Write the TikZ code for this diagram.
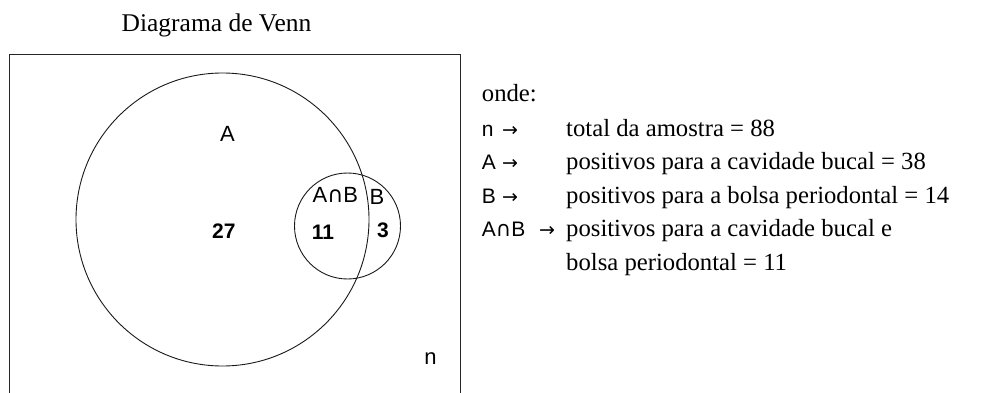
\documentclass[tikz,border=0pt]{standalone}
\usepackage{fontspec}
\setmainfont{Liberation Serif}
\setsansfont{Liberation Sans}
\newfontfamily\djvfont{DejaVu Sans}
\newcommand\capglyph{{\djvfont ∩}}
\newcommand\arrglyph{{\djvfont →}}
\begin{document}
\begin{tikzpicture}[x=1pt,y=-1pt,
  frame/.style={draw=black!85,line width=1.3pt},
  setcircle/.style={draw=black!90,line width=0.9pt},
  setlabel/.style={inner sep=0pt,font=\sffamily\fontsize{22}{24}\selectfont},
  count/.style={inner sep=0pt,font=\sffamily\bfseries\fontsize{21}{23}\selectfont},
  serif/.style={inner sep=0pt,anchor=base west,font=\rmfamily\fontsize{24.7}{30}\selectfont},
  legkey/.style={inner sep=0pt,anchor=base west,font=\sffamily\fontsize{21}{23}\selectfont},
  legarrow/.style={inner sep=0pt,anchor=base west,font=\fontsize{19}{21}\selectfont}]
\useasboundingbox (0,0) rectangle (988,393);
% title
\node[inner sep=0pt,anchor=base,font=\rmfamily\fontsize{25.5}{30}\selectfont] (title) at (216.5,31.7) {Diagrama de Venn};
% frame (open at the bottom)
\coordinate (fbl) at (9.5,393);
\coordinate (ftl) at (9.5,54.3);
\coordinate (ftr) at (460.3,54.3);
\coordinate (fbr) at (460.3,393);
\draw[frame] (fbl) -- (ftl) -- (ftr) -- (fbr);
% sets
\node[setcircle,circle,minimum size=293pt,inner sep=0pt] (setA) at (222.5,219.5) {};
\node[setcircle,circle,minimum size=106pt,inner sep=0pt] (setB) at (347.5,226) {};
% labels
\node[setlabel] (labA) at (227.5,134) {A};
\node[setlabel] (labAB) at (335.3,195) {A\capglyph B};
\node[setlabel] (labB) at (377,197.3) {B};
\node[setlabel] (labn) at (430.5,358.5) {n};
\node[count] (c27) at (223.8,230.8) {27};
\node[count] (c11) at (323,232) {11};
\node[count] (c3) at (383,230) {3};
% legend
\node[serif] (onde) at (481.7,102) {onde:};
\node[legkey] (kn) at (481.7,136.7) {n};
\node[legarrow] (an) at (502,136.7) {\arrglyph};
\node[serif] (tn) at (566,136.7) {total da amostra = 88};
\node[legkey] (kA) at (481.7,170) {A};
\node[legarrow] (aA) at (502,170) {\arrglyph};
\node[serif] (tA) at (566,170) {positivos para a cavidade bucal = 38};
\node[legkey] (kB) at (481.7,203.3) {B};
\node[legarrow] (aB) at (502,203.3) {\arrglyph};
\node[serif] (tB) at (566,203.3) {positivos para a bolsa periodontal = 14};
\node[legkey] (kAB) at (481.7,236.7) {A\capglyph B};
\node[legarrow] (aAB) at (539,236.7) {\arrglyph};
\node[serif] (tAB) at (566,236.7) {positivos para a cavidade bucal e};
\node[serif] (tAB2) at (566,270) {bolsa periodontal = 11};
\end{tikzpicture}
\end{document}
